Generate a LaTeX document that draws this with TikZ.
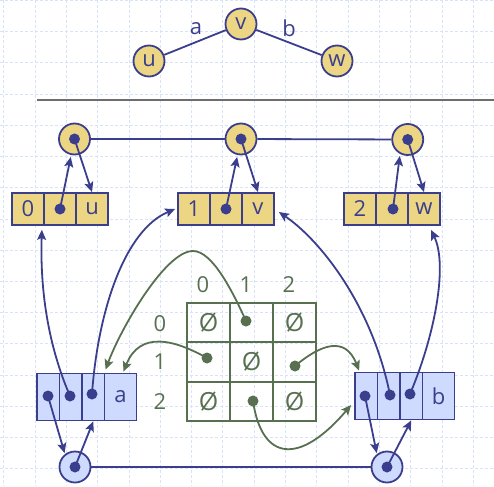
\documentclass[tikz,border=0pt]{standalone}
\usepackage{fontspec}
\setmainfont{Open Sans}
\usetikzlibrary{arrows.meta,calc}
\definecolor{gold}{RGB}{236,214,132}
\definecolor{navy}{RGB}{58,62,140}
\definecolor{lblue}{RGB}{206,219,255}
\definecolor{olive}{RGB}{88,112,80}
\definecolor{gridc}{RGB}{216,226,248}
\definecolor{sepgray}{RGB}{110,110,110}
\tikzset{
  txt/.style={font=\fontsize{22}{22}\selectfont},
  vtx/.style={circle, draw=navy, fill=gold, line width=1.8pt, minimum size=31pt, inner sep=0pt, text=navy, txt},
  evtx/.style={vtx, fill=lblue},
  cell/.style={rectangle, draw=navy, fill=gold, line width=1.8pt, minimum width=32pt, minimum height=32pt, inner sep=0pt, text=navy, txt},
  ecell/.style={rectangle, draw=navy, fill=lblue, line width=1.8pt, minimum width=22.5pt, minimum height=47pt, inner sep=0pt, text=navy, txt},
  mcell/.style={rectangle, draw=olive, line width=1.8pt, minimum width=43pt, minimum height=39.3pt, inner sep=0pt, text=olive, font=\fontsize{25}{25}\selectfont},
  dotn/.style={circle, fill=navy, minimum size=11pt, inner sep=0pt},
  gdot/.style={circle, fill=olive, minimum size=11pt, inner sep=0pt},
  lbl/.style={text=navy, txt, inner sep=0pt},
  glbl/.style={text=olive, txt, inner sep=0pt},
  arr/.style={draw=navy, line width=1.8pt, -{Stealth[length=10pt,width=9pt,inset=2pt]}},
  garr/.style={draw=olive, line width=1.8pt, -{Stealth[length=10pt,width=9pt,inset=2pt]}},
  edge/.style={draw=navy, line width=1.8pt},
}
\begin{document}
\begin{tikzpicture}[x=1pt,y=-1pt]
\useasboundingbox (0,0) rectangle (494,486);
% background grid
\foreach \k in {0,...,15} {
  \draw[gridc, line width=0.8pt, dash pattern=on 3pt off 2pt] ({3.7+31.3*\k},0) -- ({3.7+31.3*\k},486);
  \draw[gridc, line width=0.8pt, dash pattern=on 3pt off 2pt] (0,{0.5+31.2*\k}) -- (494,{0.5+31.2*\k});
}
% top graph
\node[vtx] (tv) at (241,24) {v};
\node[vtx] (tu) at (149,61) {u};
\node[vtx] (tw) at (337,61) {w};
\draw[edge] (tu) -- (tv);
\draw[edge] (tv) -- (tw);
\node[lbl] (la) at (196,29) {a};
\node[lbl] (lb) at (289,28) {b};
% separator
\draw[sepgray, line width=2pt] (37,100) -- (494,100);

% vertex list
\node[vtx] (uvx) at (74.5,139) {};
\node[vtx] (vvx) at (241,139) {};
\node[vtx] (wvx) at (407.7,139.5) {};
\draw[edge] (uvx) -- (vvx);
\draw[edge] (vvx) -- (wvx);

\node[cell] (u1) at (28,209) {0};
\node[cell] (u2) at (60,209) {};
\node[cell] (u3) at (92,209) {u};
\node[cell] (v1) at (194,209) {1};
\node[cell] (v2) at (226,209) {};
\node[cell] (v3) at (258,209) {v};
\node[cell] (w1) at (360,209) {2};
\node[cell] (w2) at (392,209) {};
\node[cell] (w3) at (424,209) {w};

% edge list
\node[ecell] (a1) at (48.25,397) {};
\node[ecell] (a2) at (70.75,397) {};
\node[ecell] (a3) at (93.25,397) {};
\node[ecell, minimum width=32pt] (a4) at (120.5,397) {a};
\node[ecell] (b1) at (366.25,396) {};
\node[ecell] (b2) at (388.75,396) {};
\node[ecell] (b3) at (411.25,396) {};
\node[ecell, minimum width=32pt] (b4) at (438.5,396) {b};

\node[evtx] (avx) at (75,467) {};
\node[evtx] (bvx) at (387,467) {};
\draw[edge] (avx) -- (bvx);

% adjacency matrix
\node[mcell] (m00c) at (208.5,322.7) {Ø};
\node[mcell] (m01c) at (251.5,322.7) {};
\node[mcell] (m02c) at (294.5,322.7) {Ø};
\node[mcell] (m10c) at (208.5,362) {};
\node[mcell] (m11c) at (251.5,362) {Ø};
\node[mcell] (m12c) at (294.5,362) {};
\node[mcell] (m20c) at (208.5,401.3) {Ø};
\node[mcell] (m21c) at (251.5,401.3) {};
\node[mcell] (m22c) at (294.5,401.3) {Ø};
\node[glbl] (c0) at (203,285) {0};
\node[glbl] (c1) at (246,285) {1};
\node[glbl] (c2) at (289,285) {2};
\node[glbl] (r0) at (160,324) {0};
\node[glbl] (r1) at (160,362) {1};
\node[glbl] (r2) at (160,402) {2};

% dot positions
\coordinate (pu) at (60,209);
\coordinate (pv) at (226,209);
\coordinate (pw) at (393,209);
\coordinate (pa1) at (48,396);
\coordinate (pa2) at (70,396);
\coordinate (pa3) at (92,394);
\coordinate (pb1) at (365,396);
\coordinate (pb2) at (390,395);
\coordinate (pb3) at (410,394);
\coordinate (m01) at (246,321);
\coordinate (m10) at (207,358);
\coordinate (m12) at (295,366);
\coordinate (m21) at (253,401);

% vertex <-> list arrows
\draw[arr, shorten >=2pt] (pu) -- (uvx);
\draw[arr] (uvx.center) -- (u3.north);
\draw[arr, shorten >=2pt] (pv) -- (vvx);
\draw[arr] (vvx.center) -- (v3.north);
\draw[arr, shorten >=2pt] (pw) -- (wvx.-118);
\draw[arr] (wvx.center) -- (w3.north);
\draw[arr, shorten >=1pt] (pa1) -- (avx.128);
\draw[arr] (avx.center) -- (a3.south);
\draw[arr, shorten >=1pt] (pb1) -- (bvx.128);
\draw[arr] (bvx.center) -- (b3.south);

% edge -> vertex curves
\draw[arr] (pa2) .. controls (48,345) and (40,290) .. ($(u1.south east)+(-3,4)$);
\draw[arr] (pa3) .. controls (98,310) and (125,230) .. ($(v1.west)+(-2,0)$);
\draw[arr] (pb2) .. controls (372,305) and (320,240) .. ($(v3.east)+(4,3)$);
\draw[arr] (pb3) .. controls (435,335) and (448,265) .. ($(w3.south)+(7,4)$);

% matrix -> edge curves
\coordinate (gpk) at (193,251);
\draw[garr] (m01) .. controls (232,290) and (212,251) .. (gpk) .. controls (165,251) and (120,330) .. ($(a4.north west)+(2,-3)$);
\draw[garr] (m10) .. controls (175,340) and (140,330) .. ($(a4.north)+(3,-1)$);
\draw[garr] (m12) .. controls (320,345) and (345,335) .. ($(b1.north west)+(5,-1)$);
\draw[garr] (m21) .. controls (262,462) and (300,465) .. ($(b1.west)+(-3,9)$);

% dots on top
\node[dotn] (du) at (pu) {};
\node[dotn] (dv) at (pv) {};
\node[dotn] (dw) at (pw) {};
\node[dotn] (duvx) at (uvx.center) {};
\node[dotn] (dvvx) at (vvx.center) {};
\node[dotn] (dwvx) at (wvx.center) {};
\node[dotn] (da1) at (pa1) {};
\node[dotn] (da2) at (pa2) {};
\node[dotn] (da3) at (pa3) {};
\node[dotn] (db1) at (pb1) {};
\node[dotn] (db2) at (pb2) {};
\node[dotn] (db3) at (pb3) {};
\node[dotn] (davx) at (avx.center) {};
\node[dotn] (dbvx) at (bvx.center) {};
\node[gdot] (dm01) at (m01) {};
\node[gdot] (dm10) at (m10) {};
\node[gdot] (dm12) at (m12) {};
\node[gdot] (dm21) at (m21) {};
\end{tikzpicture}
\end{document}
